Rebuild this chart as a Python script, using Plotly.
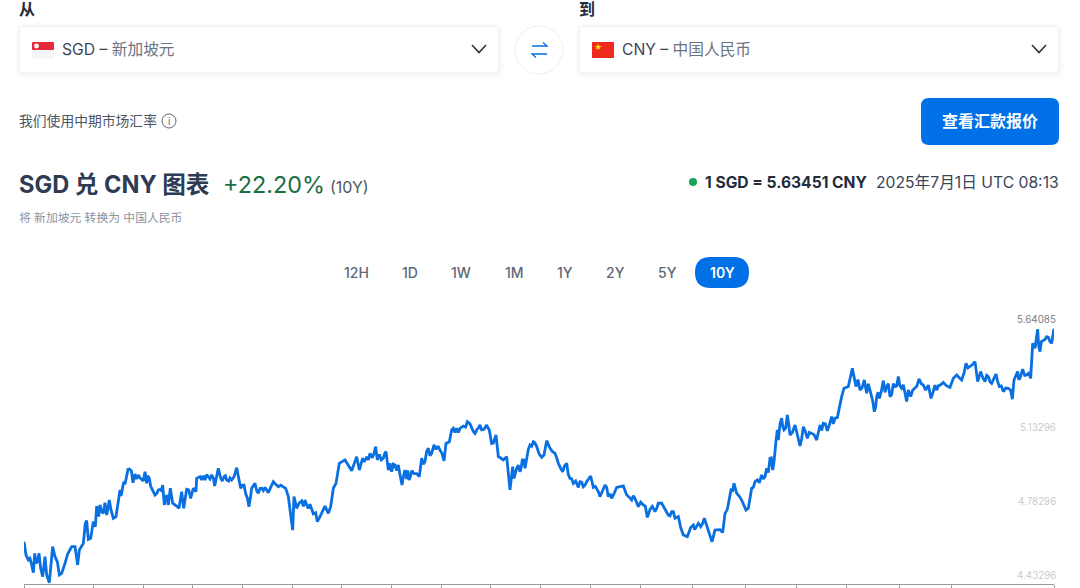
import plotly.graph_objects as go

W, H = 1080, 588

# sample position inside the 10Y window, and the SGD/CNY rate
sample_idx = [
    0, 3, 6, 13, 18, 23, 28, 32, 36, 40, 45, 50, 56, 63, 68, 76, 83, 86, 93, 100, 106, 113, 123, 131, 143, 153,
    161, 166, 178, 184, 188, 193, 200, 208, 214, 218, 224, 228, 238, 243, 248, 256, 261, 268, 276, 284, 288, 293,
    300, 308, 316, 322, 327, 333, 343, 353, 363, 368, 376, 383, 393, 403, 416, 421, 428, 433, 439, 446, 458, 465,
    473, 479, 488, 494, 500, 508, 516, 518, 528, 543, 553, 563, 572, 583, 590, 600, 608, 623, 638, 650, 660, 675,
    683, 693, 703, 713, 728, 748, 763, 778, 793, 806, 810, 818, 833, 848, 863, 880, 888, 903, 913, 920, 928, 936,
    946, 963, 983, 998, 1006, 1016, 1028, 1033, 1038, 1055, 1060, 1078, 1086, 1093, 1098, 1103, 1113, 1123, 1134,
    1143, 1155, 1163, 1186, 1193, 1203, 1213, 1223, 1230, 1248, 1260, 1266, 1276, 1283, 1293, 1308, 1330, 1348,
    1358, 1368, 1373, 1388, 1403, 1416, 1423, 1438, 1448, 1458, 1466, 1470, 1478, 1488, 1495, 1503, 1518, 1528,
    1538, 1553, 1560, 1568, 1578, 1593, 1603, 1616, 1628, 1638, 1648, 1663, 1668, 1678, 1688, 1700, 1708, 1720,
    1728, 1743, 1753, 1763, 1778, 1798, 1808, 1823, 1833, 1843, 1858, 1870, 1878, 1893, 1903, 1913, 1933, 1943,
    1953, 1963, 1978, 1990, 2008, 2018, 2023, 2030, 2041, 2053, 2064, 2073, 2088, 2096, 2103, 2110, 2121, 2130,
    2138, 2153, 2166, 2173, 2183, 2193, 2206, 2213, 2223, 2238, 2246, 2253, 2260, 2263, 2273, 2280, 2290, 2298,
    2313, 2328, 2338, 2350, 2363, 2378, 2388, 2398, 2410, 2423, 2433, 2446, 2453, 2460, 2473, 2485, 2496, 2508,
    2521, 2528, 2538, 2551, 2558, 2566, 2578, 2588, 2598, 2613, 2623, 2633, 2648, 2653, 2673, 2685, 2698, 2713,
    2721, 2733, 2743, 2758, 2778, 2788, 2798, 2813, 2826, 2838, 2853, 2861, 2870, 2883, 2893, 2903, 2916, 2926,
    2938, 2953, 2965, 2970, 2981, 2988, 2996, 3008, 3020, 3026, 3033, 3041, 3048, 3058, 3068, 3078, 3083, 3090,
]
rate_values = [
    4.633, 4.610, 4.570, 4.547, 4.554, 4.523, 4.487, 4.578, 4.531, 4.539, 4.578, 4.507, 4.468, 4.562, 4.476, 4.439,
    4.562, 4.610, 4.562, 4.539, 4.476, 4.483, 4.531, 4.575, 4.610, 4.610, 4.523, 4.594, 4.625, 4.720, 4.733, 4.644,
    4.649, 4.728, 4.704, 4.802, 4.752, 4.807, 4.767, 4.818, 4.759, 4.830, 4.783, 4.744, 4.752, 4.838, 4.878, 4.862,
    4.917, 4.957, 4.977, 4.969, 4.912, 4.953, 4.949, 4.928, 4.964, 4.909, 4.933, 4.886, 4.854, 4.878, 4.901, 4.807,
    4.854, 4.807, 4.886, 4.815, 4.802, 4.791, 4.870, 4.791, 4.881, 4.878, 4.838, 4.886, 4.870, 4.933, 4.941, 4.925,
    4.941, 4.949, 4.897, 4.980, 4.933, 4.941, 4.925, 4.925, 4.983, 4.886, 4.901, 4.799, 4.886, 4.909, 4.862, 4.886,
    4.878, 4.917, 4.893, 4.893, 4.846, 4.688, 4.846, 4.791, 4.826, 4.807, 4.783, 4.728, 4.752, 4.802, 4.767, 4.799,
    4.886, 4.909, 5.004, 5.020, 4.969, 5.035, 4.972, 5.028, 5.035, 5.020, 5.051, 5.083, 5.020, 5.028, 5.059, 4.972,
    5.004, 4.964, 4.996, 4.996, 4.901, 4.972, 4.925, 4.969, 4.941, 5.028, 5.012, 5.075, 5.051, 5.091, 5.067, 5.016,
    5.098, 5.106, 5.162, 5.149, 5.169, 5.201, 5.154, 5.162, 5.185, 5.162, 5.185, 5.098, 5.138, 5.035, 5.020, 5.035,
    4.878, 4.988, 4.933, 4.980, 4.964, 5.020, 4.980, 5.091, 5.106, 5.083, 5.032, 5.043, 5.111, 5.075, 5.051, 5.004,
    4.964, 5.004, 4.933, 4.909, 4.890, 4.917, 4.893, 4.917, 4.944, 4.890, 4.878, 4.846, 4.901, 4.846, 4.838, 4.890,
    4.897, 4.854, 4.830, 4.838, 4.799, 4.807, 4.748, 4.786, 4.775, 4.815, 4.815, 4.759, 4.775, 4.744, 4.752, 4.665,
    4.657, 4.712, 4.704, 4.720, 4.704, 4.744, 4.696, 4.633, 4.688, 4.690, 4.676, 4.767, 4.786, 4.878, 4.909, 4.862,
    4.830, 4.783, 4.791, 4.886, 4.917, 4.912, 4.949, 4.941, 5.028, 4.972, 5.083, 5.162, 5.114, 5.217, 5.162, 5.233,
    5.138, 5.185, 5.086, 5.177, 5.122, 5.146, 5.114, 5.185, 5.193, 5.158, 5.225, 5.217, 5.272, 5.319, 5.359, 5.367,
    5.453, 5.367, 5.351, 5.398, 5.335, 5.351, 5.248, 5.319, 5.311, 5.395, 5.367, 5.319, 5.367, 5.414, 5.359, 5.296,
    5.351, 5.359, 5.403, 5.374, 5.374, 5.311, 5.374, 5.370, 5.386, 5.363, 5.406, 5.422, 5.398, 5.477, 5.461, 5.485,
    5.390, 5.438, 5.390, 5.414, 5.382, 5.426, 5.367, 5.343, 5.359, 5.307, 5.398, 5.438, 5.406, 5.449, 5.422, 5.406,
    5.572, 5.548, 5.638, 5.532, 5.587, 5.603, 5.579, 5.572, 5.641,
]
# finer wiggles between the points above
detail_idx = [
    233, 252, 286, 291, 297, 303, 312, 338, 348, 358, 371, 380, 388, 398, 408, 412, 533, 538, 548, 558, 568, 577,
    595, 604, 614, 618, 630, 634, 655, 665, 670, 680, 698, 708, 718, 723, 733, 740, 755, 770, 785, 825, 838, 843,
    853, 858, 868, 875, 1021, 1045, 1050, 1066, 1072, 1082, 1108, 1118, 1128, 1138, 1148, 1151, 1159, 1170, 1178,
    1198, 1208, 1218, 1236, 1242, 1254, 1288, 1298, 1303, 1318, 1325, 1338, 1353, 1363, 1380, 1396, 1408, 1429,
    1483, 1491, 1499, 1508, 1513, 1523, 1533, 1545, 1573, 1585, 1598, 1610, 1621, 1633, 1643, 1655, 1673, 1683,
    1694, 1714, 1723, 1735, 1748, 1758, 1770, 1815, 1828, 1850, 1864, 1885, 1898, 1925, 1938, 1948, 1970, 2000,
    2012, 2036, 2046, 2116, 2126, 2145, 2160, 2188, 2200, 2218, 2228, 2233, 2242, 2250, 2256, 2268, 2276, 2285,
    2294, 2305, 2320, 2333, 2344, 2356, 2370, 2383, 2393, 2404, 2416, 2428, 2440, 2502, 2514, 2525, 2533, 2543,
    2546, 2555, 2562, 2572, 2583, 2593, 2603, 2608, 2618, 2628, 2638, 2643, 2660, 2666, 2679, 2692, 2705, 2727,
    2738, 2750, 2768, 2805, 2820, 2832, 2845, 2876, 2888, 2898, 2910, 2921, 2932, 2945, 2960, 2976, 2984, 3002,
    3014, 3037, 3044, 3052, 3063, 3073,
]
detail_values = [
    4.775, 4.790, 4.850, 4.850, 4.900, 4.905, 4.975, 4.930, 4.935, 4.920, 4.945, 4.895, 4.875, 4.860, 4.880, 4.875,
    4.925, 4.945, 4.950, 4.930, 4.935, 4.940, 4.920, 4.945, 4.920, 4.935, 4.940, 4.960, 4.900, 4.860, 4.840, 4.850,
    4.875, 4.885, 4.875, 4.890, 4.865, 4.890, 4.905, 4.900, 4.885, 4.815, 4.800, 4.830, 4.790, 4.810, 4.765, 4.770,
    5.010, 5.030, 5.050, 5.045, 5.020, 5.050, 5.000, 4.970, 4.950, 4.940, 4.930, 4.970, 4.940, 4.955, 4.955, 5.000,
    5.060, 5.040, 5.070, 5.085, 5.050, 5.170, 5.170, 5.150, 5.180, 5.175, 5.190, 5.145, 5.170, 5.165, 5.160, 5.100,
    5.030, 4.995, 4.980, 5.020, 5.020, 5.070, 5.085, 5.100, 5.050, 5.090, 5.060, 5.030, 4.980, 4.990, 4.950, 4.930,
    4.920, 4.915, 4.900, 4.930, 4.895, 4.870, 4.870, 4.890, 4.860, 4.860, 4.845, 4.850, 4.820, 4.800, 4.800, 4.790,
    4.785, 4.755, 4.775, 4.700, 4.700, 4.690, 4.720, 4.720, 4.840, 4.875, 4.850, 4.805, 4.890, 4.925, 4.930, 4.980,
    4.960, 5.030, 5.010, 5.110, 5.190, 5.180, 5.170, 5.190, 5.150, 5.140, 5.120, 5.155, 5.150, 5.140, 5.150, 5.160,
    5.190, 5.185, 5.190, 5.220, 5.400, 5.360, 5.360, 5.380, 5.330, 5.300, 5.270, 5.340, 5.345, 5.340, 5.380, 5.330,
    5.380, 5.370, 5.370, 5.375, 5.330, 5.320, 5.350, 5.370, 5.380, 5.350, 5.340, 5.350, 5.375, 5.370, 5.410, 5.430,
    5.455, 5.470, 5.410, 5.420, 5.390, 5.410, 5.390, 5.370, 5.360, 5.350, 5.420, 5.400, 5.420, 5.430, 5.600, 5.560,
    5.580, 5.590, 5.600,
]
x_tick_idx = [0, 207, 357, 504, 654, 804, 951, 1101, 1251, 1398, 1548, 1698, 1848, 2004, 2163, 2316, 2466, 2625, 2781, 3090]
y_label_vals = [5.64085, 5.13296, 4.78296, 4.43296]
y_label_text = ["5.64085", "5.13296", "4.78296", "4.43296"]
y_label_colors = ["#777d85", "#c9ccd0", "#c9ccd0", "#c9ccd0"]
range_labels = ["12H", "1D", "1W", "1M", "1Y", "2Y", "5Y", "10Y"]

BLUE = "#0070e6"
FONT = "Inter, 'Noto Sans CJK SC', sans-serif"


def fx(x):
    return x / W


def fy(y):
    return 1 - y / H


def round_rect(x0, y0, x1, y1, r):
    a, b, c, d = fx(x0), fx(x1), fy(y0), fy(y1)
    rx, ry = r / W, r / H
    return (f"M {a + rx} {c} L {b - rx} {c} Q {b} {c} {b} {c - ry} L {b} {d + ry} Q {b} {d} {b - rx} {d} "
            f"L {a + rx} {d} Q {a} {d} {a} {d + ry} L {a} {c - ry} Q {a} {c} {a + rx} {c} Z")


def poly(points, close=False):
    s = " L ".join(f"{fx(x)} {fy(y)}" for x, y in points)
    return "M " + s + (" Z" if close else "")


shapes = []
annotations = []


def add_path(path, fill="rgba(0,0,0,0)", line=None, width=1):
    shapes.append(dict(type="path", xref="paper", yref="paper", path=path, fillcolor=fill,
                       line=dict(color=line or "rgba(0,0,0,0)", width=width if line else 0)))


def add_circle(cx, cy, r, fill="rgba(0,0,0,0)", line=None, width=1):
    shapes.append(dict(type="circle", xref="paper", yref="paper", x0=fx(cx - r), x1=fx(cx + r),
                       y0=fy(cy + r), y1=fy(cy - r), fillcolor=fill,
                       line=dict(color=line or "rgba(0,0,0,0)", width=width if line else 0)))


def add_text(x, y, text, size=14, color="#3a4558", anchor="left", bold=False, weight=None):
    # annotations carry about 2px of padding, take it off so x is the glyph edge
    nudge = {"left": -2, "right": 2, "center": 0}[anchor]
    font = dict(family=FONT, size=size, color=color)
    if weight:
        font["weight"] = weight
    annotations.append(dict(x=fx(x + nudge), y=fy(y), xref="paper", yref="paper",
                            text=f"<b>{text}</b>" if bold else text,
                            showarrow=False, xanchor=anchor, yanchor="middle", align=anchor, font=font))


# selector cards
for x0, x1 in [(19, 499), (579, 1059)]:
    for grow, alpha in [(5, 0.012), (3, 0.016), (1.5, 0.02)]:
        add_path(round_rect(x0 - grow, 26 - grow + 2, x1 + grow, 73 + grow + 2, 6 + grow), fill=f"rgba(40,50,70,{alpha})")
    add_path(round_rect(x0, 26, x1, 73, 6), fill="#ffffff", line="#eceef1", width=1)
    add_path(poly([(x1 - 27, 45), (x1 - 20, 52.5), (x1 - 13, 45)]), line="#2b3443", width=1.6)

add_text(19, 9, "从", size=16, color="#232c3b", bold=True)
add_text(579, 9, "到", size=16, color="#232c3b", bold=True)

# flags
add_path(round_rect(32, 42, 54, 50, 1), fill="#e8293b")
add_path(round_rect(32, 50, 54, 59, 1), fill="#f6f6f6")
add_circle(36.5, 46, 2.4, fill="#ffffff")
add_path(round_rect(592, 42, 614, 58, 0.5), fill="#ee2a1c")
add_text(598, 47, "★", size=8, color="#ffde00", anchor="center")

add_text(62, 50, "SGD – <span style='color:#6b7280'>新加坡元</span>", size=15.7)
add_text(622, 50, "CNY – <span style='color:#6b7280'>中国人民币</span>", size=15.7)

# swap button
add_circle(539, 50, 24, fill="#ffffff", line="#eceef1", width=1)
add_path(poly([(532, 46), (547, 46), (543, 42.5)]), line=BLUE, width=1.3)
add_path(poly([(547, 54), (532, 54), (536, 57.5)]), line=BLUE, width=1.3)

add_text(19, 121, "我们使用中期市场汇率", size=13.8, color="#4b5563")
add_circle(169, 121, 7, line="#5c6470", width=1)
add_text(169, 121, "i", size=10, color="#5c6470", anchor="center")

add_path(round_rect(921, 98, 1059, 145, 8), fill=BLUE)
add_text(990, 121, "查看汇款报价", size=16, color="#ffffff", anchor="center", bold=True)

add_text(19, 185, "SGD 兑 CNY 图表", size=23.6, color="#2e3b52", bold=True)
add_text(222.5, 184, "+22.20%", size=23.4, color="#1b6f3f")
add_text(329.5, 187, "(10Y)", size=16, color="#4b5563")
add_text(19, 218, "将 新加坡元 转换为 中国人民币", size=11.8, color="#8a929e")

add_circle(693, 182, 4, fill="#1aa352")
add_text(705, 182, "1 SGD = 5.63451 CNY", size=15.6, color="#232c3b", bold=True)
add_text(1059, 182, "2025年7月1日 UTC 08:13", size=15.7, color="#3a4558", anchor="right")

# range selector
range_centers = [356, 410, 461, 514, 565, 615, 667, 722]
add_path(round_rect(695, 257, 749, 288, 15.5), fill=BLUE)
for cx, label in zip(range_centers, range_labels):
    active = label == "10Y"
    add_text(cx, 272.5, label, size=14, color="#ffffff" if active else "#5f6875", anchor="center", weight=600 if active else 500)

# y labels sit just above the value they mark
for val, text, color in zip(y_label_vals, y_label_text, y_label_colors):
    annotations.append(dict(x=3090, y=val, xref="x", yref="y", text=text, showarrow=False, xanchor="right",
                            yanchor="middle", xshift=4, yshift=9, font=dict(family=FONT, size=9.8, color=color)))

points = sorted(zip(sample_idx + detail_idx, rate_values + detail_values))

fig = go.Figure()
fig.add_trace(go.Scatter(x=[p[0] for p in points], y=[p[1] for p in points], mode="lines",
                         line=dict(color="#0a6fe0", width=2.8), hoverinfo="skip", showlegend=False))

fig.update_layout(
    width=W, height=H, margin=dict(l=0, r=0, t=0, b=0, autoexpand=False),
    paper_bgcolor="#ffffff", plot_bgcolor="#ffffff", shapes=shapes, annotations=annotations,
    xaxis=dict(domain=[fx(24), fx(1054)], range=[0, 3090], showgrid=False, zeroline=False, showline=True,
               linecolor="#9a9a9a", linewidth=1.3, ticks="outside", ticklen=8, tickcolor="#9a9a9a", tickwidth=1.3,
               tickvals=x_tick_idx, showticklabels=False),
    yaxis=dict(domain=[fy(584), fy(300)], range=[4.43296, 5.77640], showgrid=False, zeroline=False,
               showticklabels=False, ticks=""),
)

fig.write_html("out.html", config=dict(displayModeBar=False),
               post_script="document.body.style.margin='0';document.body.style.overflow='hidden';")
